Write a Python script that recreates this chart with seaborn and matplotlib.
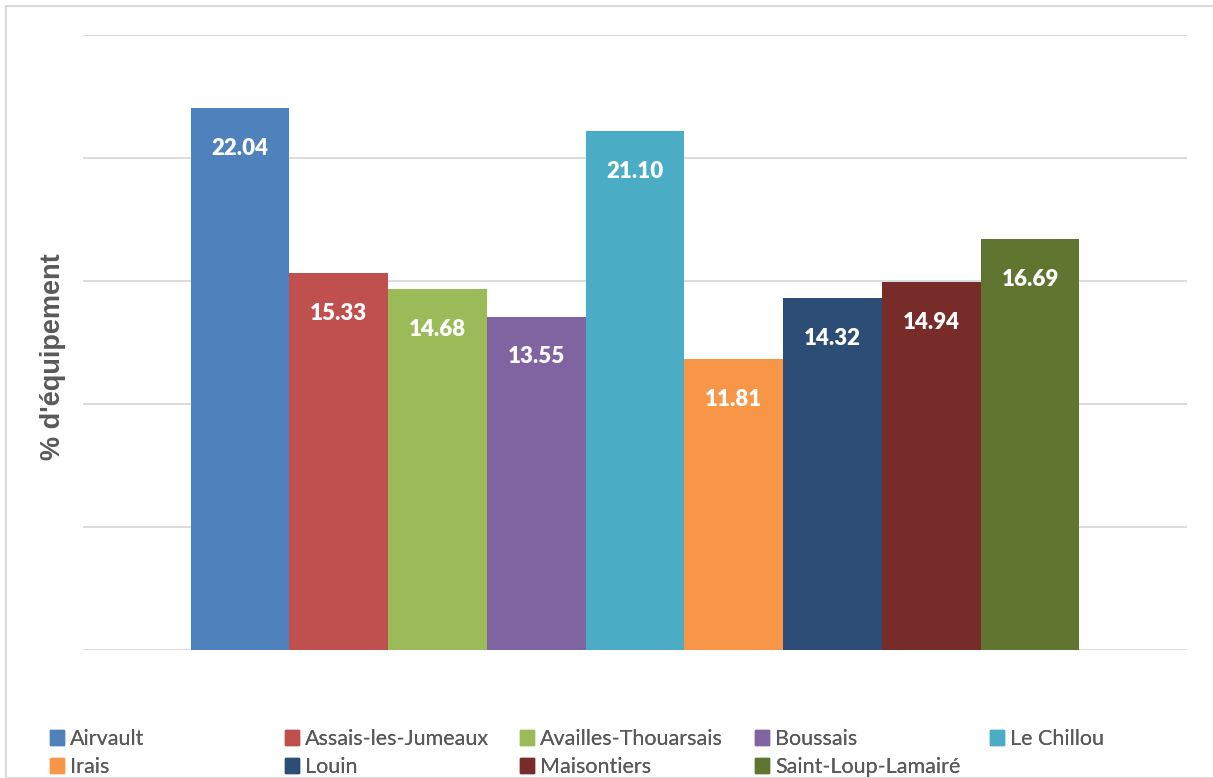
import matplotlib
matplotlib.use("Agg")
import matplotlib.pyplot as plt
import seaborn as sns
import pandas as pd
from matplotlib.patches import Rectangle
from matplotlib.font_manager import FontProperties

communes = ["Airvault", "Assais-les-Jumeaux", "Availles-Thouarsais", "Boussais",
            "Le Chillou", "Irais", "Louin", "Maisontiers", "Saint-Loup-Lamairé"]
valeurs = [22.04, 15.33, 14.68, 13.55, 21.10, 11.81, 14.32, 14.94, 16.69]
couleurs = ["#4F81BD", "#C0504D", "#9BBB59", "#8064A2", "#4BACC6",
            "#F79646", "#2C4D75", "#772C2A", "#5F7530"]
yticks = [0, 5, 10, 15, 20, 25]

df = pd.DataFrame({"cat": [""] * len(communes), "commune": communes, "val": valeurs})

sns.set_style("white")
plt.rcParams["font.family"] = ["Lato", "DejaVu Sans"]

fig = plt.figure(figsize=(12.13, 7.78), dpi=100)
ax = fig.add_axes([83 / 1213, 1 - 650 / 778, 1104 / 1213, 615 / 778])

sns.barplot(data=df, x="cat", y="val", hue="commune", hue_order=communes,
            palette=couleurs, width=0.805, dodge=True, saturation=1,
            linewidth=0, legend=False, ax=ax, zorder=3)

ax.set_xlim(-0.5, 0.5)
ax.set_ylim(0, 25)
ax.set_yticks(yticks)
ax.yaxis.grid(True, color="#D9D9D9", linewidth=1.3, zorder=0)
ax.set_axisbelow(True)
ax.tick_params(left=False, bottom=False, labelleft=False, labelbottom=False)
for s in ax.spines.values():
    s.set_visible(False)
ax.set_xlabel("")
ax.set_ylabel("")

for bar_c in ax.containers:
    for p in bar_c:
        ax.annotate(f"{p.get_height():.2f}", (p.get_x() + p.get_width() / 2, p.get_height()),
                    xytext=(0, -29), textcoords="offset points", ha="center", va="center",
                    color="white", fontsize=16, fontweight="heavy")

fp_ylab = FontProperties(family="Liberation Sans", weight="bold", size=19.5)
fig.text(53 / 1213, 1 - 357 / 778, "% d'équipement", rotation=90, ha="center", va="center",
         fontproperties=fp_ylab, color="#595959")

# legende en lignes : colonne j = communes[j] et communes[j + 5]
col_x = [50, 285, 520, 755, 990]
for j, x0 in enumerate(col_x):
    idx = [i for i in (j, j + 5) if i < len(communes)]
    handles = [Rectangle((0, 0), 1, 1, color=couleurs[i]) for i in idx]
    leg = fig.legend(handles, [communes[i] for i in idx], loc="upper left",
                     bbox_to_anchor=(x0 / 1213, 1 - 729 / 778), frameon=False,
                     fontsize=15.5, labelcolor="#595959", handlelength=0.65,
                     handleheight=0.65, handletextpad=0.28, labelspacing=0.38,
                     borderpad=0, borderaxespad=0)
    fig.add_artist(leg)

fig.patches.append(Rectangle((6 / 1213, 0), 1.2, 1 - 6 / 778, transform=fig.transFigure,
                             fill=False, edgecolor="#D9D9D9", linewidth=1.5))

fig.savefig("out.png", dpi=100)
